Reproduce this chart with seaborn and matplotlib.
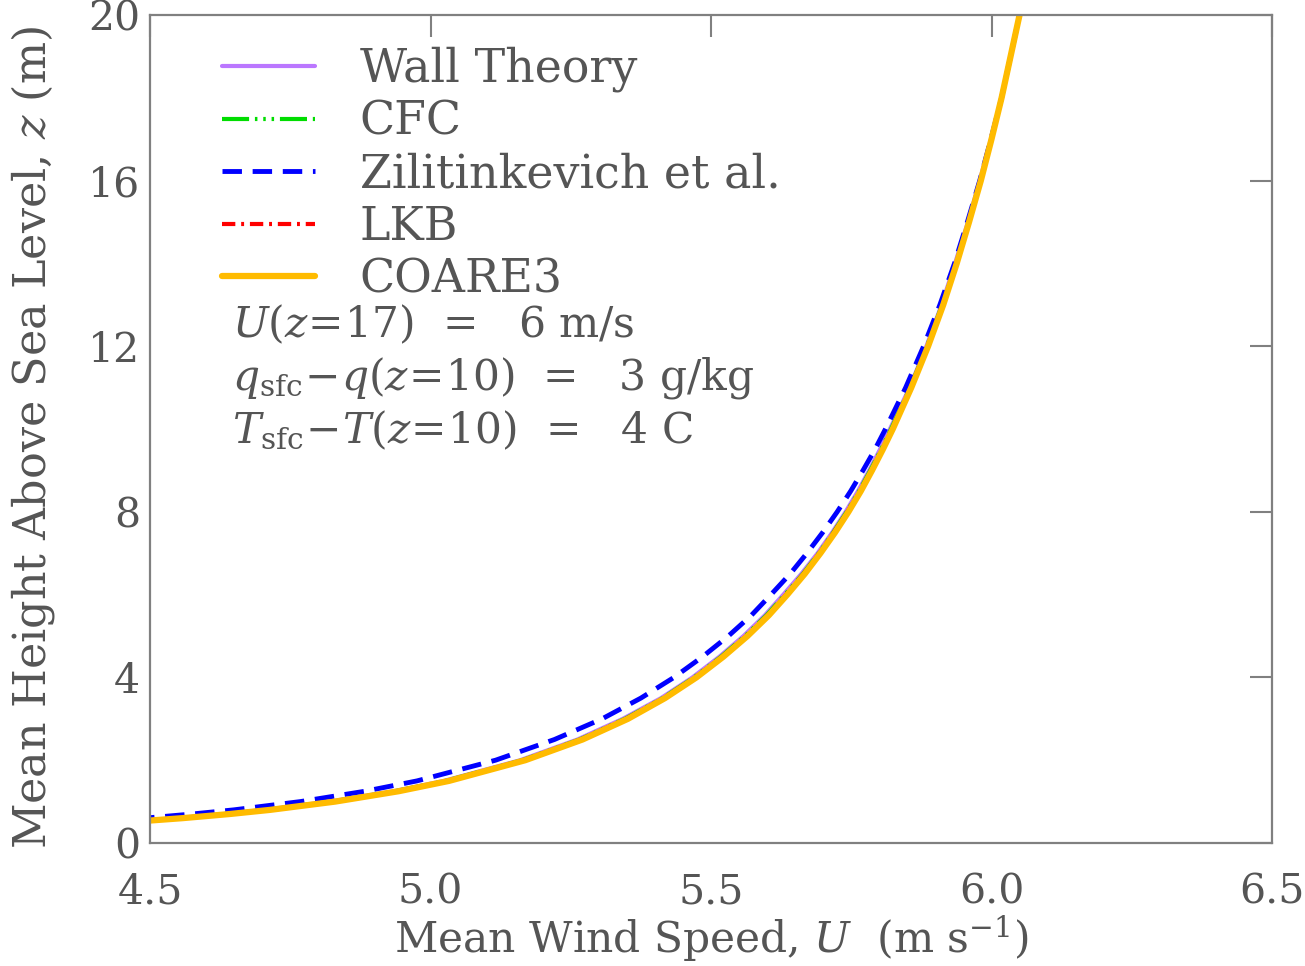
import seaborn as sns
import matplotlib.pyplot as plt

# ---------------------------------------------------------------
# Wind profiles (U in m/s, z in m)
# ---------------------------------------------------------------
height_m = [0.4, 0.5, 0.6, 0.7, 0.8, 1.0, 1.25, 1.5, 2.0, 2.5, 3.0, 3.5, 4.0,
            4.5, 5.0, 5.5, 6.0, 6.5, 7.0, 7.5, 8.0, 8.5, 9.0, 9.5, 10.0,
            11.0, 12.0, 13.0, 14.0, 15.0, 16.0, 17.0, 18.0, 19.0, 20.0]

u_wall = [4.319, 4.447, 4.548, 4.632, 4.704, 4.820, 4.934, 5.024, 5.160, 5.262,
          5.343, 5.411, 5.467, 5.515, 5.558, 5.596, 5.629, 5.661, 5.690, 5.716,
          5.740, 5.762, 5.782, 5.801, 5.819, 5.854, 5.884, 5.911, 5.935, 5.958,
          5.979, 5.999, 6.018, 6.034, 6.050]

u_cfc = [4.323, 4.451, 4.552, 4.636, 4.708, 4.824, 4.937, 5.027, 5.164, 5.266,
         5.347, 5.414, 5.470, 5.518, 5.561, 5.599, 5.632, 5.664, 5.692, 5.718,
         5.742, 5.764, 5.784, 5.803, 5.821, 5.855, 5.885, 5.912, 5.937, 5.959,
         5.980, 6.000, 6.018, 6.034, 6.050]

u_zil = [4.259, 4.387, 4.490, 4.575, 4.649, 4.768, 4.883, 4.976, 5.116, 5.221,
         5.306, 5.375, 5.434, 5.485, 5.531, 5.572, 5.607, 5.641, 5.671, 5.699,
         5.725, 5.749, 5.771, 5.792, 5.811, 5.847, 5.879, 5.908, 5.934, 5.957,
         5.979, 5.999, 6.018, 6.034, 6.050]

u_lkb = [4.326, 4.454, 4.555, 4.639, 4.711, 4.827, 4.940, 5.030, 5.166, 5.268,
         5.349, 5.416, 5.472, 5.520, 5.563, 5.601, 5.634, 5.665, 5.693, 5.719,
         5.743, 5.766, 5.786, 5.805, 5.823, 5.856, 5.886, 5.913, 5.937, 5.960,
         5.981, 6.000, 6.018, 6.034, 6.050]

u_coare3 = [4.329, 4.457, 4.558, 4.642, 4.714, 4.830, 4.943, 5.033, 5.169, 5.271,
            5.352, 5.418, 5.474, 5.522, 5.565, 5.603, 5.636, 5.667, 5.695, 5.721,
            5.745, 5.767, 5.787, 5.806, 5.824, 5.857, 5.887, 5.914, 5.938, 5.960,
            5.981, 6.000, 6.018, 6.034, 6.050]

series_names = ["Wall Theory", "CFC", "Zilitinkevich et al.", "LKB", "COARE3"]
x_ticks = [4.5, 5.0, 5.5, 6.0, 6.5]
y_ticks = [0, 4, 8, 12, 16, 20]

notes = [r"$U(z\!=\!17)$  =   6 m/s",
         r"$q_{\rm sfc}\!-\!q(z\!=\!10)$  =   3 g/kg",
         r"$T_{\rm sfc}\!-\!T(z\!=\!10)$  =   4 C"]

# ---------------------------------------------------------------
# Style
# ---------------------------------------------------------------
sns.set_style("white")
plt.rcParams["font.family"] = ["DejaVu Serif"]
plt.rcParams["mathtext.fontset"] = "dejavuserif"

TXT = "#555555"
FRAME = "#808080"

styles = [
    ("#BB77FF", 3.0, "-"),
    ("#00DD00", 3.0, (0, (6.5, 1.4, 0.6, 1.4, 0.6, 1.4, 0.6, 1.4))),
    ("#0000FF", 3.5, (0, (4, 2.2))),
    ("#FF0000", 3.0, (0, (3.2, 1.4, 0.7, 1.4))),
    ("#FFBB00", 4.5, "-"),
]
profiles = [u_wall, u_cfc, u_zil, u_lkb, u_coare3]

fig = plt.figure(figsize=(13.05, 9.66), dpi=100)
ax = fig.add_axes([150 / 1305, 123 / 966, 1122 / 1305, 828 / 966])

for name, u, (col, lw, ls) in zip(series_names, profiles, styles):
    sns.lineplot(x=u, y=height_m, ax=ax, color=col, lw=lw, linestyle=ls,
                 sort=False, estimator=None, label=name)

ax.set_xlim(4.5, 6.5)
ax.set_ylim(0, 20)
ax.set_xticks(x_ticks)
ax.set_xticklabels([f"{t:.1f}" for t in x_ticks])
ax.set_yticks(y_ticks)
ax.set_yticklabels([str(t) for t in y_ticks])

for sp in ax.spines.values():
    sp.set_color(FRAME)
    sp.set_linewidth(1.6)
ax.tick_params(direction="in", length=16, width=1.5, color=FRAME,
               top=True, right=True, labelsize=29.5, labelcolor=TXT)
ax.tick_params(axis="x", pad=21)
ax.tick_params(axis="y", pad=7)

ax.set_xlabel(r"Mean Wind Speed, $U$  (m s$^{-1}$)", fontsize=30.5, color=TXT,
              va="center")
ax.set_ylabel(r"Mean Height Above Sea Level, $z$ (m)", fontsize=32, color=TXT)
ax.xaxis.set_label_coords(0.5, -0.1155)
ax.yaxis.set_label_coords(-0.083, 0.49)

ax.legend(loc="upper left", bbox_to_anchor=(0.064, 0.962), frameon=False,
          fontsize=33, labelcolor=TXT, handlelength=2.03, handletextpad=0.98,
          labelspacing=0.157, borderpad=0, borderaxespad=0)

for i, line in enumerate(notes):
    ax.text(0.073, 0.626 - 0.064 * i, line, transform=ax.transAxes,
            fontsize=30.5, color=TXT, va="center", ha="left")

fig.savefig("out.png", dpi=100)
